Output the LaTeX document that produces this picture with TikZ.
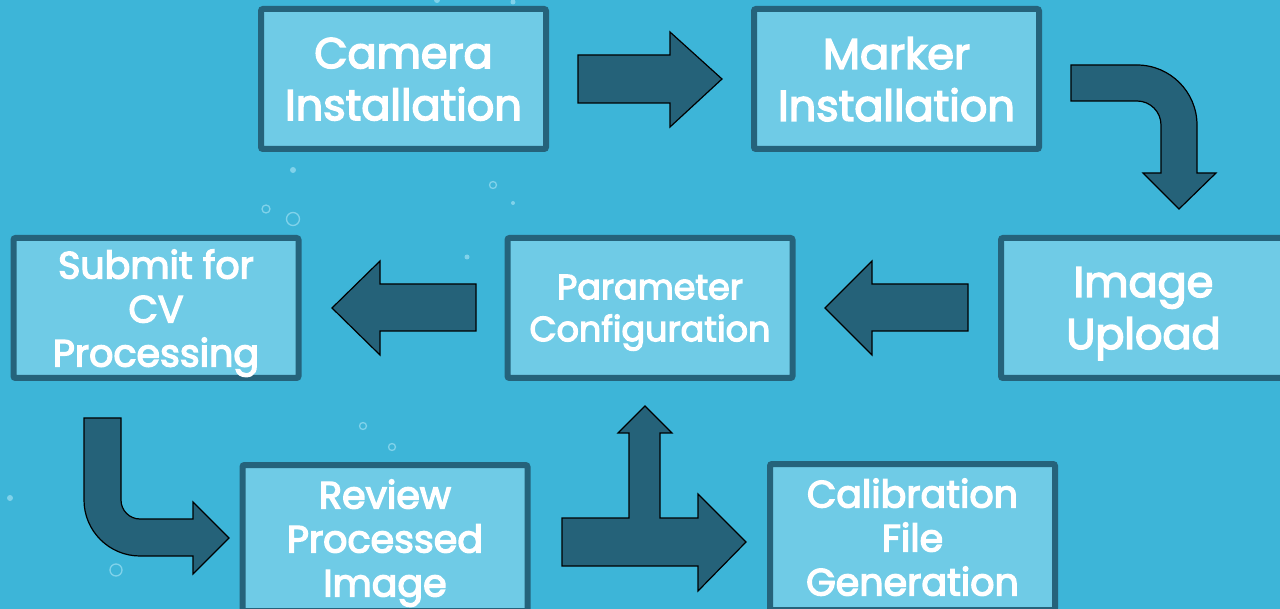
\documentclass[tikz,border=0pt]{standalone}
\usepackage{fontspec}
\setmainfont{Poppins}
\newfontfamily\stagefont{Poppins}[FakeBold=3.5]
\definecolor{sea}{HTML}{3DB5D8}
\definecolor{pane}{HTML}{6FCBE6}
\definecolor{rim}{HTML}{25637B}
\definecolor{ink}{HTML}{256279}
\definecolor{foam}{HTML}{80D2EA}
\begin{document}
\begin{tikzpicture}[
  x=1pt, y=-1pt,
  stage/.style={draw=rim, fill=pane, line width=6pt, rounded corners=2pt,
    minimum width=285pt, minimum height=140pt, inner sep=0pt,
    align=center, text=white, text depth=0pt},
  big/.style={font=\stagefont\fontsize{43}{52}\selectfont},
  mid/.style={font=\stagefont\fontsize{38}{44}\selectfont},
  small/.style={font=\stagefont\fontsize{35}{42}\selectfont},
  flow/.style={fill=ink, draw=black, line width=1.2pt, line join=miter},
  dot/.style={fill=foam},
  ring/.style={draw=foam, line width=1.3pt}]
\useasboundingbox (0,0) rectangle (1280,609);
\clip (0,0) rectangle (1280,609);
\fill [sea] (0,0) rectangle (1280,609);
\foreach \x/\y/\r in {293/170/3, 513/203/2, 467/257/2.5, 10/498/3, 437/0/3, 513/2/2.5}
  \fill [dot] (\x,\y) circle [radius=\r pt];
\foreach \x/\y/\r in {266/209/4, 293/219/6.5, 493/185/3.5, 116/570/6, 363/426/3.5, 392/447/3.5}
  \draw [ring] (\x,\y) circle [radius=\r pt];
\node [stage, big] (camera) at (403.5,79) {Camera\\Installation};
\node [stage, big] (marker) at (896.5,79) {Marker\\Installation};
\node [stage, big] (upload) at (1143.5,308) {Image\\Upload};
\node [stage, small] (param) at (650,308) {Parameter\\Configuration};
\node [stage, mid] (submit) at (156,308) {Submit for\\CV\\Processing};
\node [stage, mid, minimum height=146pt] (review) at (385,538) {Review\\Processed\\Image};
\node [stage, mid, minimum height=146pt] (calib) at (912.5,537) {Calibration\\File\\Generation};
\path [flow] (578,55) -- (670,55) -- (670,32) -- (722,79) -- (670,127) --
  (670,103) -- (578,103) -- cycle;
\path [flow] (1071,65) -- (1137,65) .. controls (1170.1,65) and (1197,91.9) ..
  (1197,125) -- (1197,173) -- (1216,173) -- (1179,209) -- (1143,173) --
  (1161,173) -- (1161,125) .. controls (1161,111.7) and (1150.3,101) ..
  (1137,101) -- (1071,101) -- cycle;
\path [flow] (968,284) -- (872,284) -- (872,261) -- (825,308) -- (872,355) --
  (872,331) -- (968,331) -- cycle;
\path [flow] (476,284) -- (380,284) -- (380,261) -- (332,308) -- (380,355) --
  (380,331) -- (476,331) -- cycle;
\path [flow] (84,418) -- (84,500) .. controls (84,530.9) and (109.1,556) ..
  (140,556) -- (193,556) -- (193,574) -- (229,538) -- (193,502) --
  (193,519) -- (140,519) .. controls (129.5,519) and (121,510.5) ..
  (121,500) -- (121,418) -- cycle;
\path [flow] (562,518) -- (629,518) -- (629,433) -- (618,433) -- (645,406) --
  (672,433) -- (660,433) -- (660,518) -- (698,518) -- (698,494) --
  (746,542) -- (698,591) -- (698,566) -- (562,566) -- cycle;
\end{tikzpicture}
\end{document}
